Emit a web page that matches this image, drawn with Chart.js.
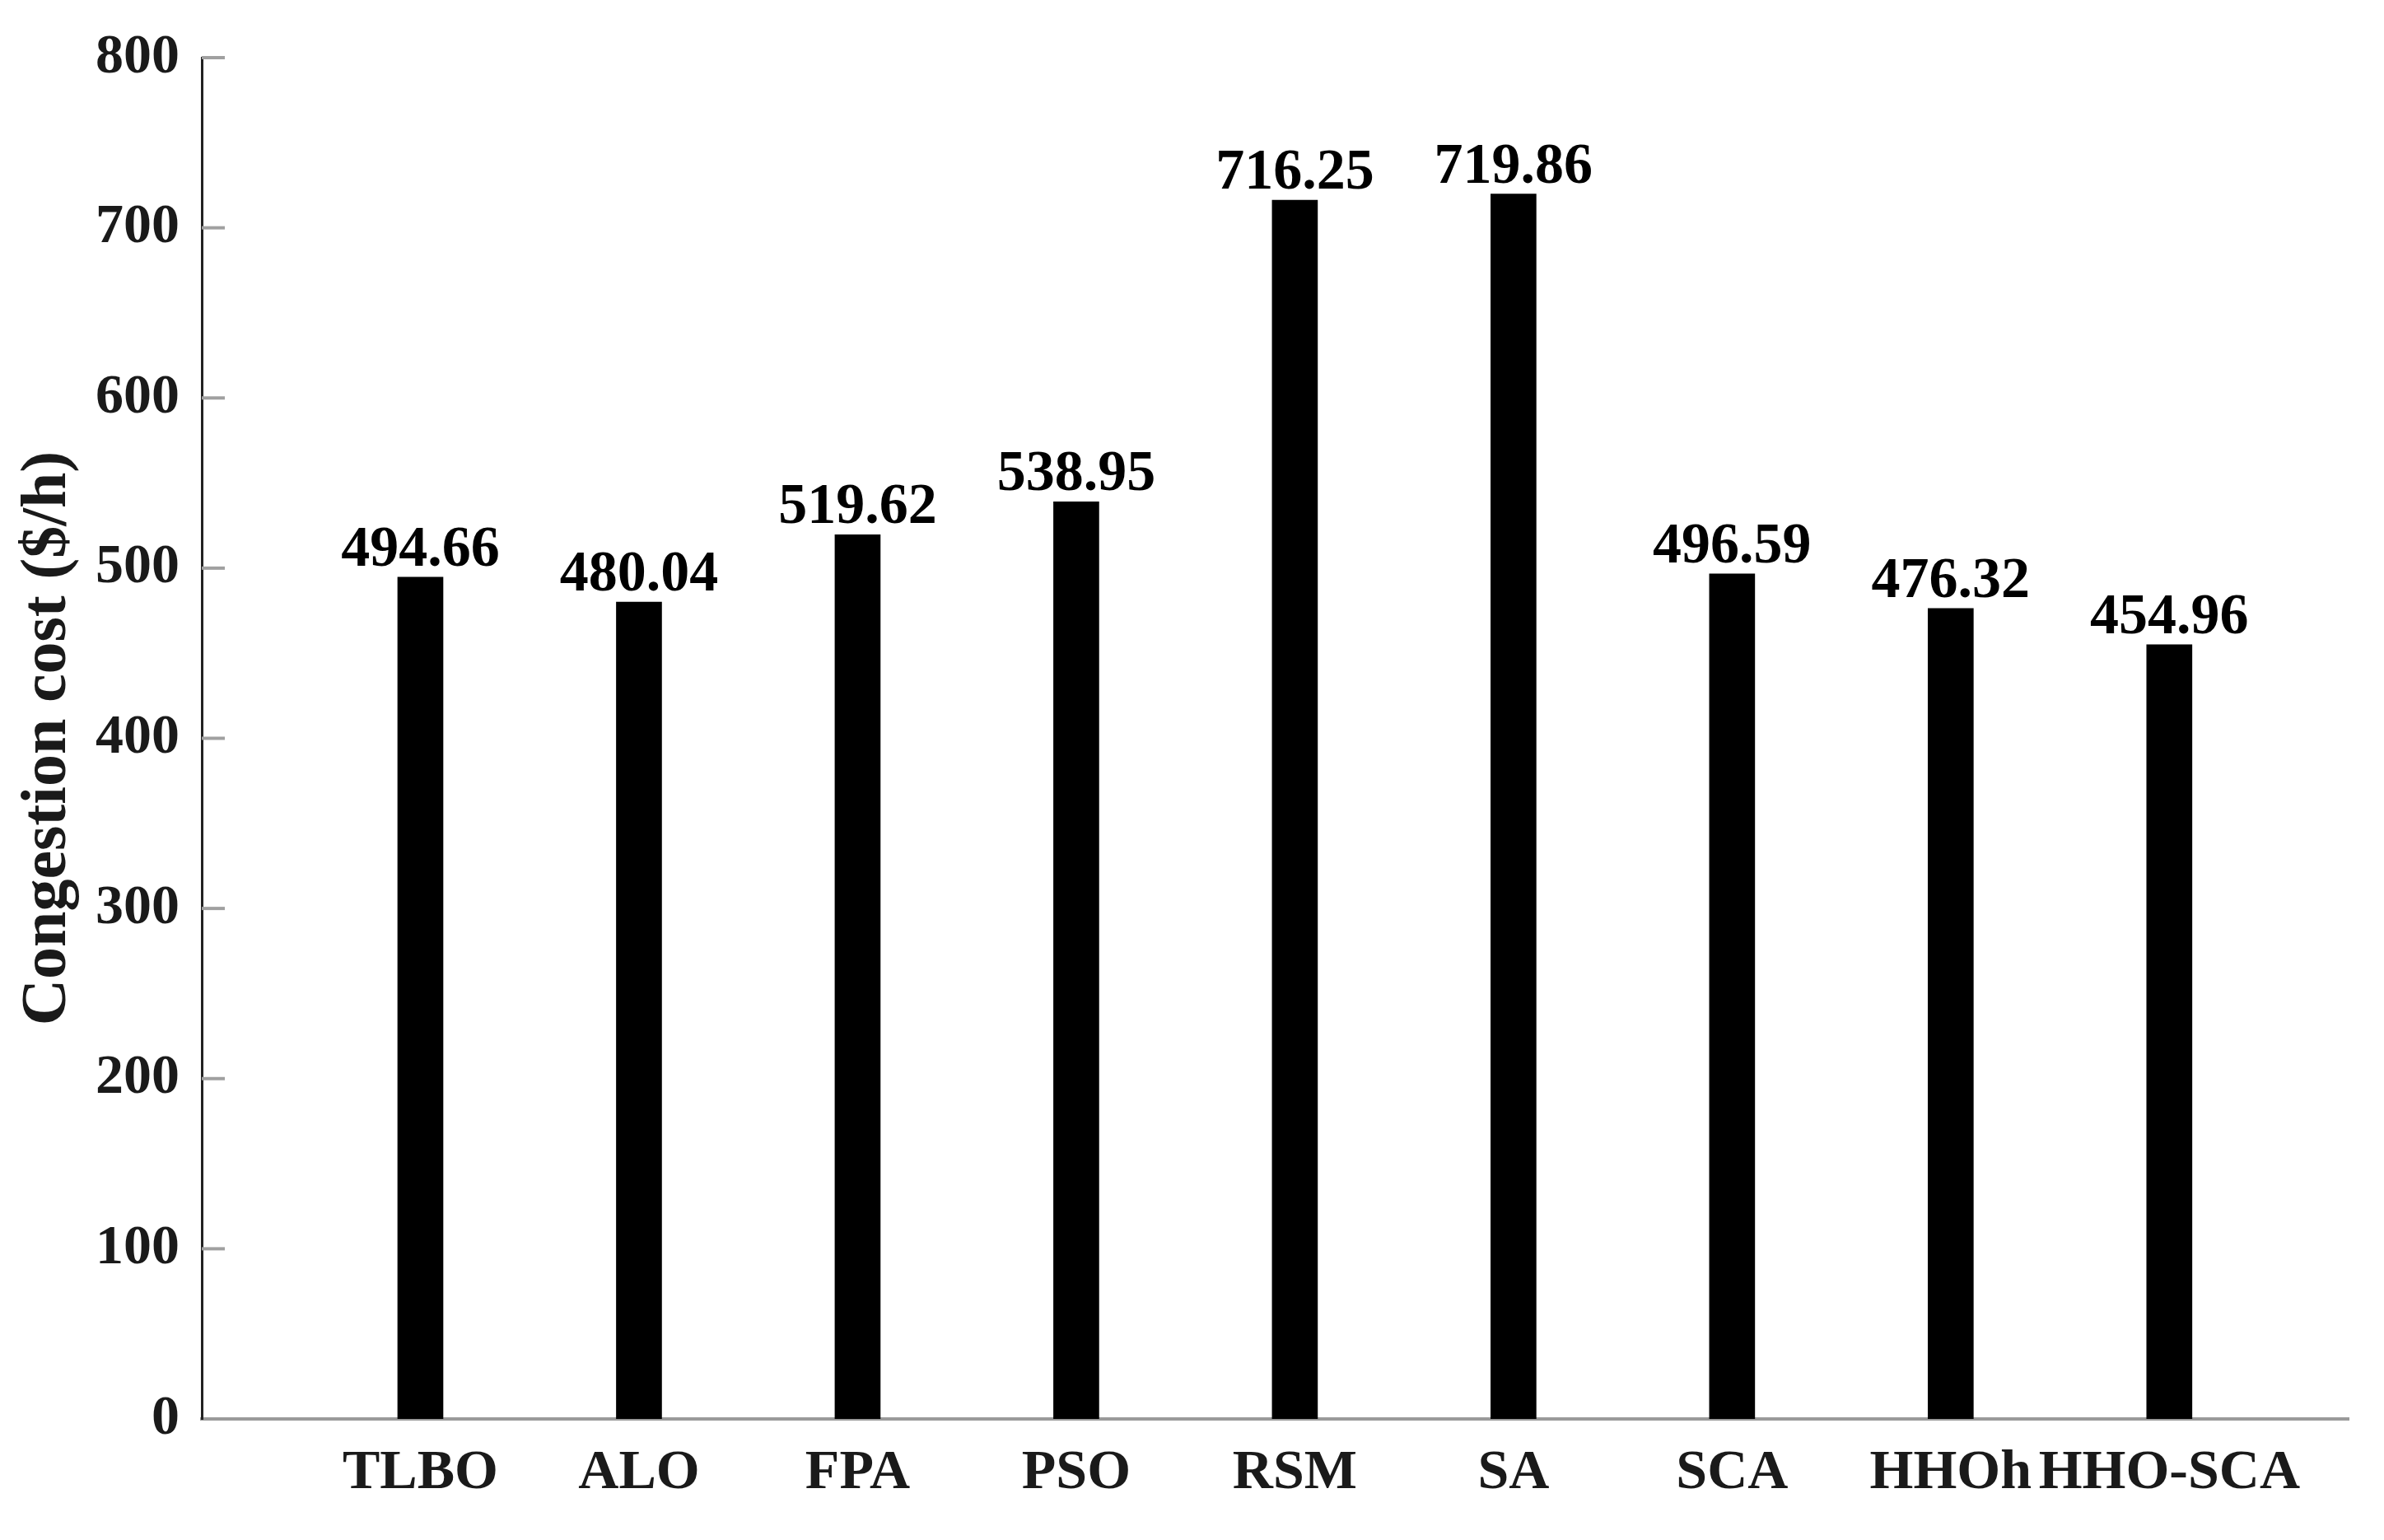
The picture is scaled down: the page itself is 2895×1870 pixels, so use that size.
<!DOCTYPE html>
<html>
<head>
<meta charset="utf-8">
<script src="https://cdn.jsdelivr.net/npm/chart.js@4.4.1/dist/chart.umd.min.js"></script>
<style>
  html, body { margin: 0; padding: 0; background: #fff; }
  canvas { display: block; }
</style>
</head>
<body>
<canvas id="chartCongestion" width="2895" height="1870"></canvas>
<script>
// Congestion cost per algorithm
const metodos = ["TLBO", "ALO", "FPA", "PSO", "RSM", "SA", "SCA", "HHOh", "HHO-SCA"];
const costos = [494.66, 480.04, 519.62, 538.95, 716.25, 719.86, 496.59, 476.32, 454.96];
const yTicks = [0, 100, 200, 300, 400, 500, 600, 700, 800];

const FONT = "'Liberation Serif', 'Times New Roman', serif";
const TXT = "#1a1a1a";

// value labels above every bar
const etiquetas = {
  id: "etiquetas",
  afterDatasetsDraw(chart) {
    const ctx = chart.ctx;
    const meta = chart.getDatasetMeta(0);
    ctx.save();
    ctx.font = "bold 70px " + FONT;
    ctx.fillStyle = "#000";
    ctx.textAlign = "center";
    ctx.textBaseline = "alphabetic";
    meta.data.forEach((bar, i) => {
      ctx.fillText(costos[i].toFixed(2), bar.x, bar.y - 14);
    });
    ctx.restore();
  },
};

// short tick marks pointing into the plot on the y axis
const ticksDentro = {
  id: "ticksDentro",
  afterDraw(chart) {
    const ctx = chart.ctx;
    const y = chart.scales.y;
    const left = chart.chartArea.left;
    ctx.save();
    ctx.strokeStyle = "#a0a0a0";
    ctx.lineWidth = 4;
    yTicks.slice(1).forEach((v) => {
      const py = y.getPixelForValue(v);
      ctx.beginPath();
      ctx.moveTo(left, py);
      ctx.lineTo(left + 28, py);
      ctx.stroke();
    });
    ctx.restore();
  },
};

const el = document.getElementById("chartCongestion");
new Chart(el, {
  type: "bar",
  data: {
    datasets: [
      {
        data: costos.map((v, i) => ({ x: i + 1, y: v })),
        backgroundColor: "#000",
        borderWidth: 0,
        barThickness: 55,
      },
    ],
  },
  options: {
    responsive: false,
    devicePixelRatio: 1,
    animation: false,
    layout: { padding: { top: 70, right: 43, left: 0, bottom: 0 } },
    plugins: { legend: { display: false }, tooltip: { enabled: false } },
    scales: {
      x: {
        type: "linear",
        min: 0,
        max: 9.82,
        offset: false,
        grid: { display: false, drawTicks: false },
        border: { display: true, color: "#9a9a9a", width: 4 },
        afterBuildTicks: (s) => {
          s.ticks = metodos.map((_, i) => ({ value: i + 1 }));
        },
        ticks: {
          autoSkip: false,
          maxRotation: 0,
          padding: 26,
          color: TXT,
          font: { family: FONT, size: 68, weight: "bold" },
          callback: (v) => metodos[Math.round(v) - 1] || "",
        },
        afterFit: (s) => { s.height = 147; },
      },
      y: {
        min: 0,
        max: 800,
        grid: { display: false, drawTicks: false },
        border: { display: true, color: "#222", width: 3 },
        afterBuildTicks: (s) => {
          s.ticks = yTicks.map((v) => ({ value: v }));
        },
        ticks: {
          padding: 27,
          color: TXT,
          font: { family: FONT, size: 68, weight: "bold" },
        },
        title: {
          display: true,
          text: "Congestion cost ($/h)",
          color: TXT,
          font: { family: FONT, size: 78, weight: "bold" },
          padding: { top: 12, bottom: 0 },
        },
        afterFit: (s) => { s.width = 245; },
      },
    },
  },
  plugins: [etiquetas, ticksDentro],
});
</script>
</body>
</html>
